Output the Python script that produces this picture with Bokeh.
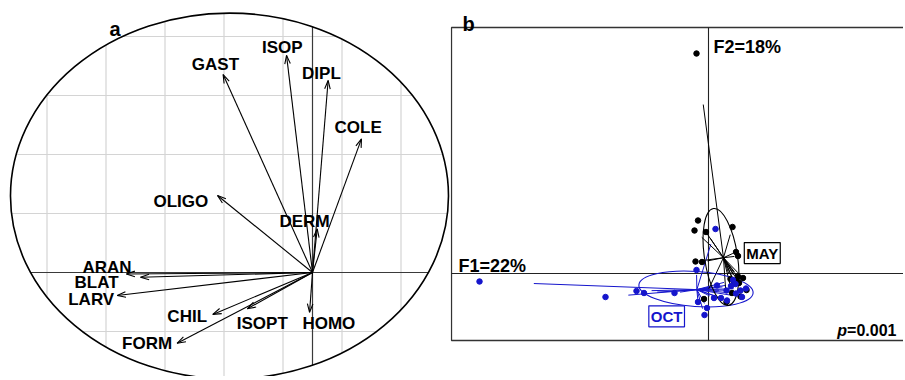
import numpy as np
from bokeh.plotting import figure
from bokeh.layouts import row
from bokeh.models import ColumnDataSource, Label, Range1d
from bokeh.core.properties import value
from bokeh.embed import file_html
from bokeh.resources import INLINE

FONT = "Liberation Sans"
BLUE = "#1515cc"

# ---------------- Panel a : correlation circle data ----------------
var_names = ["GAST", "ISOP", "DIPL", "COLE", "OLIGO", "DERM", "ARAN",
             "BLAT", "LARV", "CHIL", "ISOPT", "HOMO", "FORM"]
var_f1 = [-0.303, -0.088, 0.053, 0.166, -0.322, 0.016, -0.631,
          -0.583, -0.662, -0.338, -0.221, -0.010, -0.459]
var_f2 = [0.671, 0.736, 0.651, 0.453, 0.261, 0.148, -0.005,
          -0.016, -0.078, -0.142, -0.123, -0.135, -0.240]
grid_x = [-0.9, -0.7, -0.5, -0.3, -0.1, 0.1, 0.3]
grid_y = [-0.4, -0.2, 0.2, 0.4, 0.6, 0.8]

# ---------------- Panel b : sample scores ----------------
may_f1 = [-0.24, -0.21, -0.28, -0.05, 0.48, -0.26, -0.13, 0.55, 0.59, 0.44,
          0.59, 0.69, 0.51, 0.61, 0.76, 0.47, 0.64, -0.09, 0.36, 0.56]
may_f2 = [4.40, 1.06, 0.86, 0.83, 0.93, 0.24, 0.23, 0.43, 0.35, -0.11,
          -0.06, -0.09, -0.17, -0.19, -0.33, -0.39, -0.46, -0.51, -0.57, -0.14]
oct_f1 = [-4.58, -2.06, -1.44, -1.29, -0.68, -0.24, 0.14, -0.21, -0.03, -0.08,
          0.17, 0.36, 0.11, 0.25, 0.49, 0.54, 0.64, 0.67, 0.37, 0.75, 0.55, 0.45]
oct_f2 = [-0.16, -0.47, -0.35, -0.39, -0.39, 0.07, 0.89, -0.57, -0.69, -0.83,
          -0.24, -0.34, -0.49, -0.49, -0.13, -0.21, -0.34, -0.47, -0.54, -0.30, -0.40, -0.25]
# group ellipses (centre, full axes, angle in degrees)
may_ell = dict(x=0.25, y=0.33, w=0.66, h=1.96, angle=8.8)
oct_ell = dict(x=-0.25, y=-0.31, w=2.29, h=0.70, angle=-4.0)
star_frac = 0.75

W_A, W_B, H = 450, 453, 376

# ======================= Panel a =======================
SA = 295.0
oxa, oya = 312.0, 272.0
pa = figure(width=W_A, height=H,
            x_range=Range1d((0 - oxa) / SA, (W_A - oxa) / SA),
            y_range=Range1d((oya - H) / SA, (oya - 0) / SA),
            output_backend="svg", toolbar_location=None, min_border=0,
            x_axis_location=None, y_axis_location=None)
pa.grid.visible = False
pa.outline_line_color = None
pa.background_fill_color = "white"
pa.border_fill_color = "white"

ecx, ecy, ea, eb = -0.2814, 0.2593, 0.7424, 0.6203

def vchord(c):
    t = 1 - ((c - ecx) / ea) ** 2
    d = eb * np.sqrt(max(t, 0))
    return [c, c], [ecy - d, ecy + d]

def hchord(c):
    t = 1 - ((c - ecy) / eb) ** 2
    d = ea * np.sqrt(max(t, 0))
    return [ecx - d, ecx + d], [c, c]

gxs, gys = [], []
for c in grid_x:
    xs, ys = vchord(c); gxs.append(xs); gys.append(ys)
for c in grid_y:
    xs, ys = hchord(c); gxs.append(xs); gys.append(ys)
pa.multi_line(gxs, gys, line_color="#d4d4d4", line_width=1.2)

axs, ays = [], []
xs, ys = vchord(0.0); axs.append(xs); ays.append(ys)
xs, ys = hchord(0.0); axs.append(xs); ays.append(ys)
pa.multi_line(axs, ays, line_color="#3a3a3a", line_width=1.2)

pa.ellipse(x=[ecx], y=[ecy], width=[2 * ea], height=[2 * eb],
           fill_color=None, line_color="black", line_width=1.6)

# arrows
L = 9.0 / SA
ang = np.deg2rad(18)
shaft_x, shaft_y, head_x, head_y = [], [], [], []
for x1, y1 in zip(var_f1, var_f2):
    shaft_x.append([0, x1]); shaft_y.append([0, y1])
    n = np.hypot(x1, y1)
    bx, by = -x1 / n, -y1 / n
    pts = []
    for s in (1, -1):
        rx = bx * np.cos(s * ang) - by * np.sin(s * ang)
        ry = bx * np.sin(s * ang) + by * np.cos(s * ang)
        pts.append((x1 + L * rx, y1 + L * ry))
    head_x.append([pts[0][0], x1, pts[1][0]])
    head_y.append([pts[0][1], y1, pts[1][1]])
pa.multi_line(shaft_x, shaft_y, line_color="black", line_width=1.1)
pa.multi_line(head_x, head_y, line_color="black", line_width=1.1)

lab_dx = [-7.7, -4.3, -6.7, -3.3, -36.7, -12.7, -19.3, -44, -26, -25.6, 15, 19.3, -30]
lab_dy = [-9.7, -8.3, -7.3, -11.6, 5.7, -7.6, -6, 5, 4.3, 2, 14.4, 11.6, 0]
src_a = ColumnDataSource(dict(x=var_f1, y=var_f2, t=var_names, dx=lab_dx, dy=lab_dy))
pa.text(x="x", y="y", text="t", x_offset="dx", y_offset="dy", source=src_a,
        text_font=value(FONT), text_font_style="bold", text_font_size="17px",
        text_align="center", text_baseline="middle", text_color="black")

pa.add_layout(Label(x=(114.5 - oxa) / SA, y=(oya - 28) / SA, text="a",
                    text_font=FONT, text_font_style="bold", text_font_size="20px",
                    text_align="center", text_baseline="alphabetic", text_color="black"))

# ======================= Panel b =======================
SB = 50.0
oxb, oyb = 708.0, 273.0
pb = figure(width=W_B, height=H,
            x_range=Range1d((450 - oxb) / SB, (450 + W_B - oxb) / SB),
            y_range=Range1d((oyb - H) / SB, (oyb - 0) / SB),
            output_backend="svg", toolbar_location=None, min_border=0,
            x_axis_location=None, y_axis_location=None)
pb.grid.visible = False
pb.outline_line_color = None
pb.background_fill_color = "white"
pb.border_fill_color = "white"

fl, ft, fb, fr = (451 - oxb) / SB, (oyb - 27) / SB, (oyb - 340) / SB, 20.0
pb.quad(left=[fl], right=[fr], top=[ft], bottom=[fb], fill_color=None,
        line_color="#333333", line_width=1.3)
pb.multi_line([[0, 0], [fl, fr]], [[fb, ft], [0, 0]], line_color="#222222", line_width=1.1)

def stars(fx, fy):
    cx, cy = float(np.mean(fx)), float(np.mean(fy))
    xs = [[cx, cx + star_frac * (a - cx)] for a in fx]
    ys = [[cy, cy + star_frac * (b - cy)] for b in fy]
    return cx, cy, xs, ys

mcx, mcy, mxs, mys = stars(may_f1, may_f2)
ocx, ocy, oxs, oys = stars(oct_f1, oct_f2)

pb.multi_line(oxs, oys, line_color=BLUE, line_width=1.0)
pb.multi_line(mxs, mys, line_color="black", line_width=1.0)
pb.ellipse(x=[oct_ell["x"]], y=[oct_ell["y"]], width=[oct_ell["w"]], height=[oct_ell["h"]],
           angle=[np.deg2rad(oct_ell["angle"])], fill_color=None, line_color=BLUE, line_width=1.1)
pb.ellipse(x=[may_ell["x"]], y=[may_ell["y"]], width=[may_ell["w"]], height=[may_ell["h"]],
           angle=[np.deg2rad(may_ell["angle"])], fill_color=None, line_color="black", line_width=1.1)
pb.scatter(may_f1, may_f2, size=5.5, color="black")
pb.scatter(oct_f1, oct_f2, size=5.5, color=BLUE)

pb.add_layout(Label(x=mcx, y=mcy, x_offset=38.8, y_offset=4.7, text="MAY",
                    text_font=FONT, text_font_style="bold", text_font_size="15px",
                    text_align="center", text_baseline="middle", text_color="black",
                    border_line_color="black", border_line_width=1.2,
                    background_fill_color="white", padding=2))
pb.add_layout(Label(x=ocx, y=ocy, x_offset=-30.2, y_offset=-26.7, text="OCT",
                    text_font=FONT, text_font_style="bold", text_font_size="15px",
                    text_align="center", text_baseline="middle", text_color=BLUE,
                    border_line_color=BLUE, border_line_width=1.2,
                    background_fill_color="white", padding=2))

pb.add_layout(Label(x=(713 - oxb) / SB, y=(oyb - 46.7) / SB, text="F2=18%",
                    text_font=FONT, text_font_style="bold", text_font_size="18px",
                    text_baseline="alphabetic", text_color="black"))
pb.add_layout(Label(x=(458 - oxb) / SB, y=(oyb - 265) / SB, text="F1=22%",
                    text_font=FONT, text_font_style="bold", text_font_size="18px",
                    text_baseline="alphabetic", text_color="black"))
px_r, py_b = (896 - oxb) / SB, (oyb - 330) / SB
pb.add_layout(Label(x=px_r, y=py_b, text="=0.001",
                    text_font=FONT, text_font_style="bold", text_font_size="16px",
                    text_align="right", text_baseline="alphabetic", text_color="black"))
pb.add_layout(Label(x=px_r, y=py_b, x_offset=-49.4, text="p",
                    text_font=FONT, text_font_style="bold italic", text_font_size="16px",
                    text_align="right", text_baseline="alphabetic", text_color="black"))
pb.add_layout(Label(x=(462 - oxb) / SB, y=(oyb - 23) / SB, text="b",
                    text_font=FONT, text_font_style="bold", text_font_size="20px",
                    text_baseline="alphabetic", text_color="black"))

layout = row(pa, pb)
open("out.html", "w").write(file_html(layout, INLINE))
